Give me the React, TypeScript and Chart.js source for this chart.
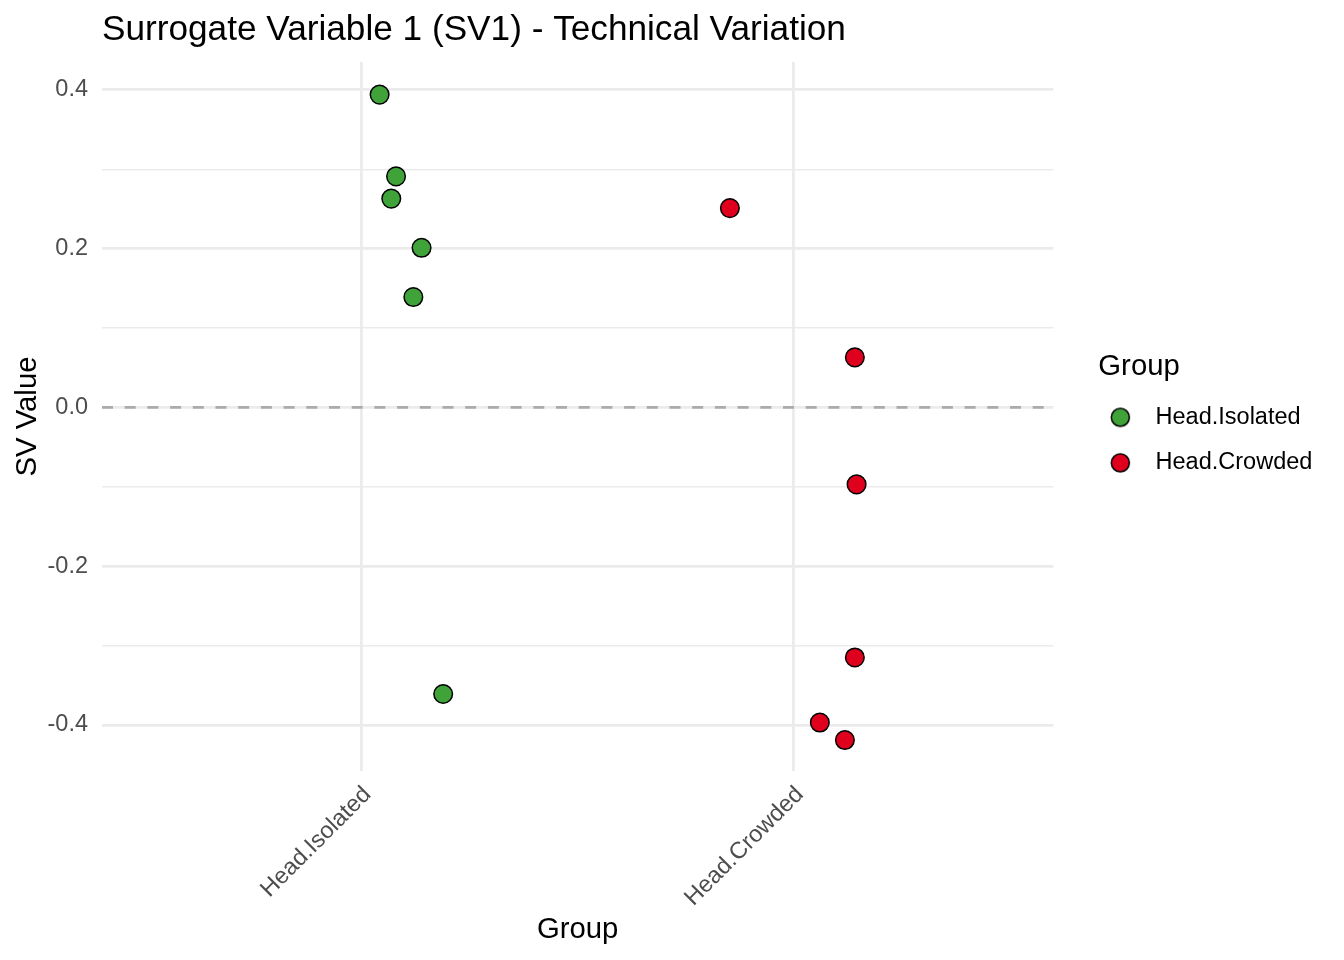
import React, { useEffect, useRef } from "react";
import { Chart } from "chart.js/auto";

const groups = ["Head.Isolated", "Head.Crowded"];
const groupColors = ["#3FA33A", "#DE001D"];

// jitter offsets (category units) and SV1 values
const isolatedJitter = [0.042, 0.08, 0.069, 0.139, 0.12, 0.189];
const isolatedValues = [0.394, 0.291, 0.263, 0.201, 0.139, -0.361];
const crowdedJitter = [-0.148, 0.141, 0.145, 0.141, 0.06, 0.118];
const crowdedValues = [0.251, 0.063, -0.097, -0.315, -0.397, -0.419];

const yTicks = [-0.4, -0.3, -0.2, -0.1, 0, 0.1, 0.2, 0.3, 0.4];
const yMin = -0.458;
const yMax = 0.435;
const xMin = 0.4;
const xMax = 2.6;

const FONT = '"Liberation Sans", Arial, Helvetica, sans-serif';
const GRID = "#EBEBEB";

const isMajor = (v: number) => Math.round(v * 10) % 2 === 0;

// legend marker: circle shifted left of the default box position
const legendMarker = (color: string) => {
    const c = document.createElement("canvas");
    c.width = 60;
    c.height = 24;
    const g = c.getContext("2d");
    if (g) {
        g.beginPath();
        g.arc(18.25, 12, 9, 0, Math.PI * 2);
        g.fillStyle = color;
        g.fill();
        g.lineWidth = 1.5;
        g.strokeStyle = "#000";
        g.stroke();
    }
    return c;
};

const toPoints = (group: number, jitter: number[], values: number[]) =>
    values.map((v, i) => ({ x: group + 1 + jitter[i], y: v }));

const SVPlot: React.FC = () => {
    const canvasRef = useRef<HTMLCanvasElement>(null);

    useEffect(() => {
        if (!canvasRef.current) return;
        const ctx = canvasRef.current.getContext("2d");
        if (!ctx) return;
        Chart.defaults.font.family = FONT;

        const markers = groupColors.map(legendMarker);

        const chart = new Chart(ctx, {
            type: "scatter",
            data: {
                datasets: [
                    {
                        label: groups[0],
                        data: toPoints(0, isolatedJitter, isolatedValues),
                        backgroundColor: groupColors[0],
                        borderColor: "#000",
                        borderWidth: 1.5,
                        pointRadius: 9.3,
                    },
                    {
                        label: groups[1],
                        data: toPoints(1, crowdedJitter, crowdedValues),
                        backgroundColor: groupColors[1],
                        borderColor: "#000",
                        borderWidth: 1.5,
                        pointRadius: 9.3,
                    },
                    {
                        type: "line",
                        label: "zero",
                        data: [
                            { x: xMin, y: 0 },
                            { x: xMax, y: 0 },
                        ],
                        borderColor: "#ABABAB",
                        borderWidth: 2.8,
                        borderDash: [11, 11.7],
                        pointRadius: 0,
                        order: 1,
                    },
                ],
            },
            options: {
                animation: false,
                responsive: false,
                devicePixelRatio: 1,
                layout: {
                    padding: { left: 0, right: 26, top: 0, bottom: 0 },
                },
                plugins: {
                    title: {
                        display: true,
                        text: "Surrogate Variable 1 (SV1) - Technical Variation",
                        align: "start",
                        fullSize: false,
                        color: "#000",
                        font: { size: 35.2, weight: "normal" },
                        padding: { top: 8.9, bottom: 10.9 },
                    },
                    legend: {
                        position: "right",
                        fullSize: false,
                        title: {
                            display: true,
                            text: "Group",
                            position: "start",
                            color: "#000",
                            font: { size: 29.3 },
                            padding: { top: 16, bottom: -4 },
                        },
                        labels: {
                            usePointStyle: true,
                            color: "#000",
                            font: { size: 23.5 },
                            padding: 22,
                            generateLabels: (c: Chart) => {
                                const items = Chart.defaults.plugins.legend.labels.generateLabels(c);
                                return items
                                    .filter((it) => (it.datasetIndex ?? 0) < 2)
                                    .map((it) => ({ ...it, pointStyle: markers[it.datasetIndex ?? 0] }));
                            },
                        },
                    },
                    tooltip: { enabled: false },
                },
                scales: {
                    x: {
                        type: "linear",
                        min: xMin,
                        max: xMax,
                        afterBuildTicks: (s: any) => {
                            s.ticks = groups.map((_, i) => ({ value: i + 1 }));
                        },
                        afterFit: (s: any) => {
                            s.height = 189;
                        },
                        ticks: {
                            autoSkip: false,
                            minRotation: 45,
                            maxRotation: 45,
                            padding: 10,
                            labelOffset: 6,
                            color: "#4D4D4D",
                            font: { size: 23.5 },
                            callback: (v: any) => groups[Math.round(Number(v)) - 1] ?? "",
                        },
                        grid: { color: GRID, lineWidth: 2.8, drawTicks: false },
                        border: { display: false },
                        title: {
                            display: true,
                            text: "Group",
                            color: "#000",
                            font: { size: 29.3 },
                            padding: { top: 0.7, bottom: 12.4 },
                        },
                    },
                    y: {
                        type: "linear",
                        min: yMin,
                        max: yMax,
                        afterBuildTicks: (s: any) => {
                            s.ticks = yTicks.map((v) => ({ value: v }));
                        },
                        afterFit: (s: any) => {
                            s.width = 102;
                        },
                        ticks: {
                            padding: 14,
                            color: "#4D4D4D",
                            font: { size: 23.5 },
                            callback: (v: any) => (isMajor(Number(v)) ? Number(v).toFixed(1) : ""),
                        },
                        grid: {
                            color: GRID,
                            lineWidth: (c: any) => (isMajor(c.tick ? c.tick.value : 0) ? 2.8 : 1.4),
                            drawTicks: false,
                        },
                        border: { display: false },
                        title: {
                            display: true,
                            text: "SV Value",
                            color: "#000",
                            font: { size: 29.3 },
                            padding: { top: 10.4, bottom: 1.9 },
                        },
                    },
                    gap: {
                        type: "linear",
                        position: "right",
                        display: true,
                        grid: { display: false },
                        border: { display: false },
                        ticks: { display: false },
                        afterFit: (s: any) => {
                            s.width = 45;
                        },
                    },
                },
            },
        } as any);

        return () => {
            chart.destroy();
        };
    }, []);

    return <canvas ref={canvasRef} width={1344} height={960}></canvas>;
};

export default function App() {
    return (
        <div style={{ position: "absolute", left: 0, top: 0, width: 1344, height: 960, background: "#fff" }}>
            <SVPlot />
        </div>
    );
}
